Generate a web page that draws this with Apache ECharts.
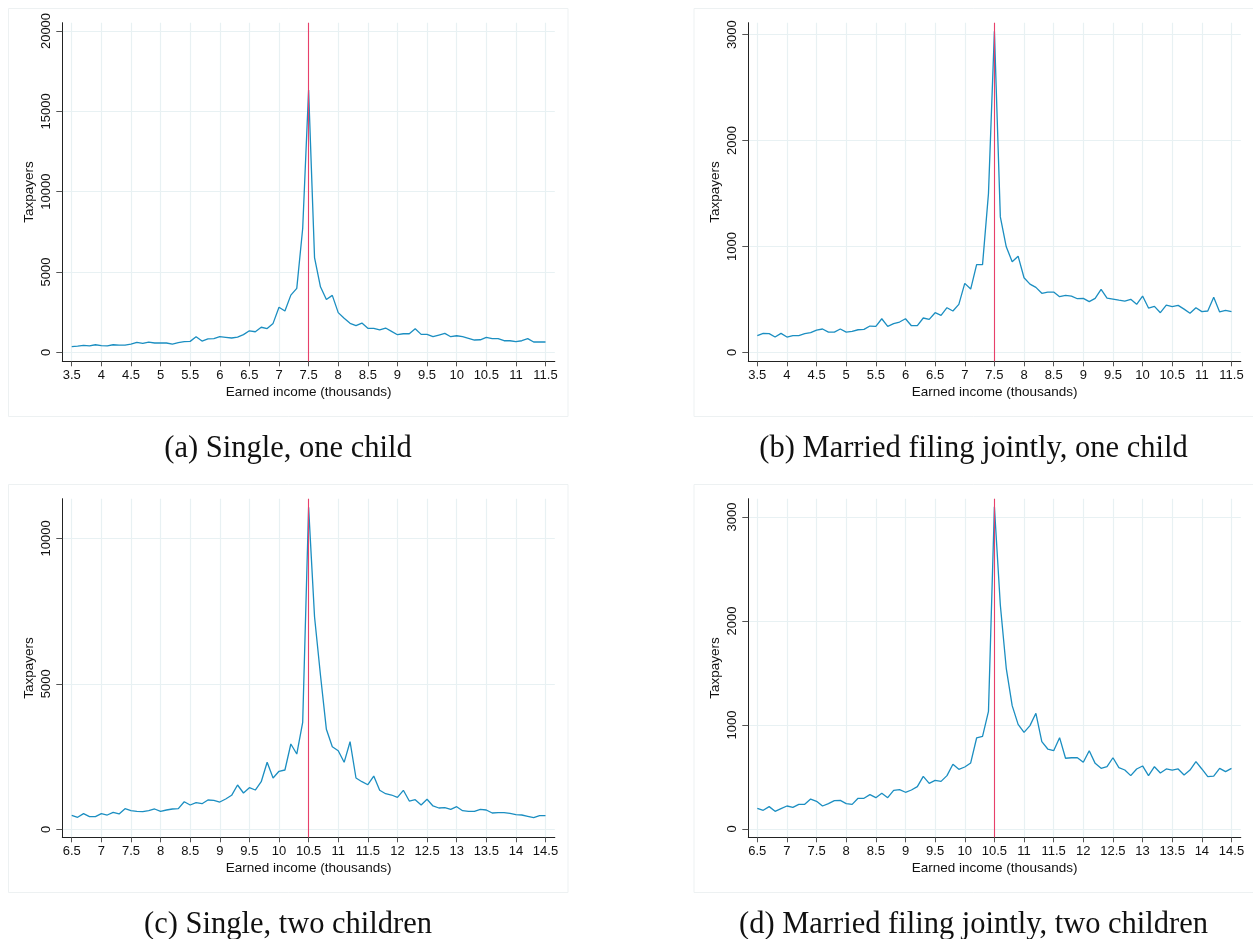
<!DOCTYPE html>
<html>
<head>
<meta charset="utf-8">
<script src="https://cdn.jsdelivr.net/npm/echarts@6/dist/echarts.min.js"></script>
<style>
html,body{margin:0;padding:0;background:#fff;}
#chart{width:1253px;height:939px;}
</style>
</head>
<body>
<div id="chart"></div>
<script>
// ---------- data ----------
const captions = ['(a) Single, one child', '(b) Married filing jointly, one child',
  '(c) Single, two children', '(d) Married filing jointly, two children'];
const xName = 'Earned income (thousands)';
const yName = 'Taxpayers';
const kinkTop = 7.5;
const kinkBottom = 10.5;
const xTicksTop = [3.5, 4, 4.5, 5, 5.5, 6, 6.5, 7, 7.5, 8, 8.5, 9, 9.5, 10, 10.5, 11, 11.5];
const xTicksBottom = [6.5, 7, 7.5, 8, 8.5, 9, 9.5, 10, 10.5, 11, 11.5, 12, 12.5, 13, 13.5, 14, 14.5];
const yTicksA = [0, 5000, 10000, 15000, 20000];
const yTicksB = [0, 1000, 2000, 3000];
const yTicksC = [0, 5000, 10000];
const yTicksD = [0, 1000, 2000, 3000];

// income bins (thousands), 0.1 steps
function bins(start, end) {
  const out = [];
  for (let v = Math.round(start * 10); v <= Math.round(end * 10); v++) out.push(+(v / 10).toFixed(1));
  return out;
}
const incomeTop = bins(3.5, 11.5);
const incomeBottom = bins(6.5, 14.5);

const singleOne = [350, 390, 435, 400, 470, 420, 400, 470, 450, 450,
  515, 620, 550, 640, 580, 580, 580, 515, 600, 660,
  680, 970, 700, 830, 850, 970, 930, 890, 950, 1100,
  1340, 1280, 1560, 1480, 1800, 2800, 2570, 3560, 3980, 7710,
  16330, 5900, 4080, 3290, 3545, 2470, 2115, 1805, 1655, 1820,
  1495, 1495, 1390, 1510, 1305, 1095, 1155, 1155, 1470, 1115,
  1115, 970, 1075, 1180, 970, 1030, 970, 870, 765, 780,
  930, 850, 850, 720, 720, 660, 720, 850, 640, 640,
  640];
const marriedOne = [157, 179, 176, 144, 179, 144, 157, 157, 176, 185,
  210, 220, 191, 191, 220, 191, 198, 213, 216, 248,
  245, 317, 245, 270, 286, 317, 251, 251, 324, 311,
  374, 349, 421, 390, 453, 651, 597, 828, 828, 1500,
  3031, 1279, 996, 855, 908, 704, 644, 613, 557, 569,
  569, 525, 538, 531, 506, 509, 478, 509, 594, 512,
  503, 493, 484, 500, 453, 531, 418, 434, 374, 446,
  431, 443, 408, 368, 421, 384, 390, 519, 381, 396,
  384];
const singleTwo = [481, 412, 537, 433, 433, 537, 491, 584, 526, 708,
  639, 618, 607, 639, 698, 618, 663, 698, 708, 948,
  835, 914, 880, 1007, 996, 938, 1041, 1168, 1522, 1247,
  1429, 1350, 1636, 2302, 1763, 1993, 2038, 2931, 2587, 3676,
  11064, 7305, 5302, 3436, 2838, 2701, 2302, 3010, 1763, 1636,
  1532, 1831, 1340, 1223, 1178, 1099, 1340, 972, 1018, 835,
  1031, 801, 732, 744, 687, 777, 639, 618, 618, 687,
  663, 560, 572, 572, 549, 502, 491, 447, 400, 468,
  468];
const marriedTwo = [199, 180, 215, 170, 196, 221, 208, 237, 237, 288,
  266, 221, 244, 272, 275, 244, 237, 295, 295, 330,
  301, 343, 301, 372, 378, 353, 375, 407, 506, 439,
  468, 458, 513, 622, 574, 596, 635, 875, 891, 1131,
  3099, 2154, 1545, 1186, 1006, 929, 994, 1112, 840, 769,
  753, 878, 680, 685, 685, 641, 753, 631, 583, 599,
  685, 590, 567, 513, 577, 606, 513, 599, 538, 577,
  567, 577, 519, 567, 647, 577, 503, 509, 583, 551,
  583];

// ---------- layout / style ----------
const LINE = '#1b8ec1';
const KINK = '#e8406a';
const GRIDC = '#e8f1f3';
const AXISC = '#222';
const FONT = '"Liberation Sans", Arial, sans-serif';

const panels = [
  {x: incomeTop, y: singleOne, xt: xTicksTop, yt: yTicksA, kink: kinkTop,
   left: 62.3, top: 22.7, xmin: 3.341, xmax: 11.657, ymin: -560, ymax: 20517},
  {x: incomeTop, y: marriedOne, xt: xTicksTop, yt: yTicksB, kink: kinkTop,
   left: 748.3, top: 22.7, xmin: 3.348, xmax: 11.657, ymin: -85, ymax: 3113},
  {x: incomeBottom, y: singleTwo, xt: xTicksBottom, yt: yTicksC, kink: kinkBottom,
   left: 62.3, top: 498.7, xmin: 6.341, xmax: 14.657, ymin: -275, ymax: 11361},
  {x: incomeBottom, y: marriedTwo, xt: xTicksBottom, yt: yTicksD, kink: kinkBottom,
   left: 748.3, top: 498.7, xmin: 6.348, xmax: 14.657, ymin: -80, ymax: 3176}
];
const GW = 492.5, GH = 338.6;
const plain = v => String(v);

const grid = [], xAxis = [], yAxis = [], series = [];
panels.forEach((p, i) => {
  grid.push({left: p.left, top: p.top, width: GW, height: GH, containLabel: false});
  xAxis.push({
    type: 'value', gridIndex: i, min: p.xmin, max: p.xmax,
    name: xName, nameLocation: 'middle', nameGap: 24,
    nameTextStyle: {fontFamily: FONT, fontSize: 13.5, color: '#111'},
    axisLine: {show: true, onZero: false, lineStyle: {color: AXISC, width: 1}},
    axisTick: {show: true, length: 5, lineStyle: {color: '#555'}, customValues: p.xt},
    axisLabel: {customValues: p.xt, formatter: plain, fontFamily: FONT, fontSize: 13, color: '#111', margin: 8},
    splitLine: {show: true, lineStyle: {color: GRIDC, width: 1.2}}
  });
  yAxis.push({
    type: 'value', gridIndex: i, min: p.ymin, max: p.ymax,
    name: yName, nameLocation: 'middle', nameGap: 26,
    nameTextStyle: {fontFamily: FONT, fontSize: 13.5, color: '#111'},
    axisLine: {show: true, onZero: false, lineStyle: {color: AXISC, width: 1}},
    axisTick: {show: true, length: 6, lineStyle: {color: '#555'}, customValues: p.yt},
    axisLabel: {customValues: p.yt, formatter: plain, rotate: 90, fontFamily: FONT, fontSize: 13, color: '#111', margin: 9},
    splitLine: {show: true, lineStyle: {color: GRIDC, width: 1.2}}
  });
  series.push({
    type: 'line', xAxisIndex: i, yAxisIndex: i,
    data: p.x.map((v, k) => [v, p.y[k]]),
    showSymbol: false, symbol: 'none',
    lineStyle: {color: LINE, width: 1.3},
    itemStyle: {color: LINE},
    animation: false, silent: true, z: 3,
    markLine: {
      silent: true, symbol: ['none', 'none'], animation: false,
      label: {show: false},
      lineStyle: {color: KINK, type: 'solid', width: 1.1},
      data: [{xAxis: p.kink}]
    }
  });
});

const boxes = [[8, 8], [693.5, 8], [8, 484], [693.5, 484]];
const graphic = [];
boxes.forEach(([bx, by], i) => {
  graphic.push({type: 'rect', shape: {x: bx + 0.5, y: by + 0.5, width: 559.5, height: 408},
    style: {fill: 'none', stroke: '#edf1f2', lineWidth: 1}, z: -1, silent: true});
  graphic.push({type: 'text', x: bx + 280, y: by + 441,
    style: {text: captions[i], fontFamily: '"Liberation Serif", "Times New Roman", serif', fontSize: 30.5,
      fill: '#111', textAlign: 'center', textVerticalAlign: 'middle'}, silent: true});
});

const chart = echarts.init(document.getElementById('chart'), null, {renderer: 'canvas'});
chart.setOption({
  animation: false,
  backgroundColor: '#fff',
  grid, xAxis, yAxis, series, graphic
});
</script>
</body>
</html>
